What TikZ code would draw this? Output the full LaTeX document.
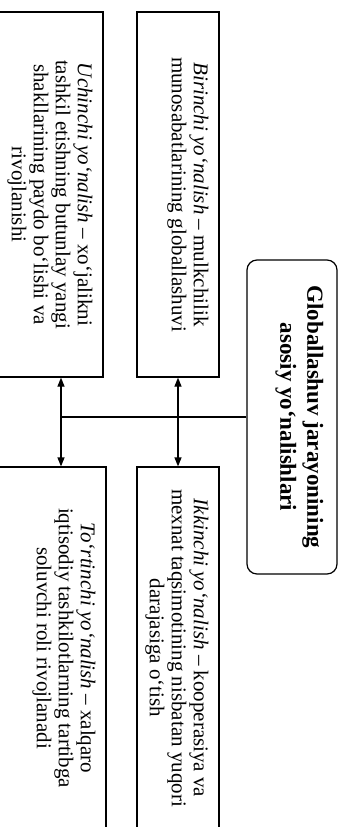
\documentclass[tikz,border=0pt]{standalone}
\usepackage{fontspec}
\setmainfont{Liberation Serif}
\usetikzlibrary{arrows.meta}

\begin{document}
\begin{tikzpicture}[x=1pt,y=1pt,
  boxline/.style={draw,line width=1.2pt,rotate=-90,inner sep=0pt},
  txtline/.style={rotate=-90,anchor=north,align=center,inner sep=11pt,
    font=\fontsize{21}{22}\selectfont},
  headline/.style={rotate=-90,anchor=north,align=center,inner sep=14pt,
    font=\bfseries\fontsize{23}{27}\selectfont},
  link/.style={line width=1.2pt},
  twoway/.style={line width=1.2pt,{Triangle[length=9pt,width=7pt]}-{Triangle[length=9pt,width=7pt]}}]
\useasboundingbox (0,0) rectangle (345,-827);
\clip (0,0) rectangle (345,-827);

\node[boxline,minimum width=365pt,minimum height=133pt] (uch) at (36.5,-194.5) {};
\node[boxline,minimum width=365pt,minimum height=82pt] (bir) at (178,-194.5) {};
\node[boxline,minimum width=362pt,minimum height=136pt] (tort) at (38,-648) {};
\node[boxline,minimum width=362pt,minimum height=82pt] (ikki) at (178,-648) {};
\node[boxline,rounded corners=10pt,minimum width=314pt,minimum height=90pt] (main) at (292,-417) {};

\node[headline] (maintxt) at (main.north) {Globallashuv jarayonining\\asosiy yo‘nalishlari};

\node[txtline] (birtxt) at (bir.north) {\textit{Birinchi yo‘nalish} – mulkchilik\\munosabatlarining globallashuvi};
\node[txtline] (uchtxt) at (uch.north) {\textit{Uchinchi yo‘nalish} – xo‘jalikni\\tashkil etishning butunlay yangi\\shakllarining paydo bo‘lishi va\\rivojlanishi};
\node[txtline] (ikkitxt) at (ikki.north) {\textit{Ikkinchi yo‘nalish} – kooperasiya va\\mexnat taqsimotining nisbatan yuqori\\darajasiga o‘tish};
\node[txtline] (torttxt) at (tort.north) {\textit{To‘rtinchi yo‘nalish} – xalqaro\\iqtisodiy tashkilotlarning tartibga\\soluvchi roli rivojlanadi};

\coordinate (jl) at (61,-417);
\draw[link] (main.south) -- (jl);
\draw[twoway] (bir.east) -- (ikki.west);
\draw[twoway] (uch.east -| jl) -- (tort.west -| jl);
\end{tikzpicture}
\end{document}
